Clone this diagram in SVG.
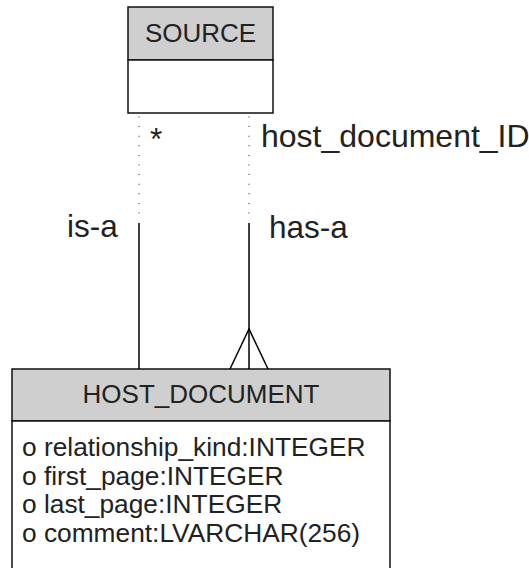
<svg xmlns="http://www.w3.org/2000/svg" width="529" height="568" viewBox="0 0 529 568">
<style>
  text { font-family: "Liberation Sans", Arial, sans-serif; fill: #222; }
  .hdr { fill: #cfcfcf; stroke: #111; stroke-width: 1.5; }
  .body { fill: #fff; stroke: #111; stroke-width: 1.5; }
  .title { font-size: 26px; text-anchor: middle; }
  .attr { font-size: 26.3px; }
  .lbl { font-size: 31.5px; }
  .solid { stroke: #000; stroke-width: 1.5; fill: none; }
  .dot { stroke: #444; stroke-width: 1.2; stroke-dasharray: 1 8.6; fill: none; }
</style>
<rect width="529" height="568" fill="#fff"/>
<g id="source">
  <rect class="hdr" x="128" y="7" width="145" height="53"/>
  <rect class="body" x="128" y="60" width="145" height="53"/>
  <text class="title" x="200.5" y="42">SOURCE</text>
</g>
<g id="host_document">
  <rect class="hdr" x="12" y="369" width="378" height="52"/>
  <rect class="body" x="12" y="421" width="378" height="160"/>
  <text class="title" x="201" y="403">HOST_DOCUMENT</text>
  <text class="attr" x="22" y="456">o relationship_kind:INTEGER</text>
  <text class="attr" x="22" y="484.5">o first_page:INTEGER</text>
  <text class="attr" x="22" y="513">o last_page:INTEGER</text>
  <text class="attr" x="22" y="541.5">o comment:LVARCHAR(256)</text>
</g>
<g id="connectors">
  <g id="is-a">
    <line class="dot" x1="139" y1="116.5" x2="139" y2="218"/>
    <line class="solid" x1="139" y1="223" x2="139" y2="369"/>
    <text class="lbl" x="150" y="150">*</text>
    <text class="lbl" x="67" y="237">is-a</text>
  </g>
  <g id="has-a">
    <line class="dot" x1="249" y1="116.5" x2="249" y2="218"/>
    <line class="solid" x1="249" y1="223" x2="249" y2="369"/>
    <polyline class="solid" points="230,369 249,329 268,369"/>
    <text class="lbl" x="261" y="147" style="font-size:32px">host_document_ID</text>
    <text class="lbl" x="269" y="238">has-a</text>
  </g>
</g>
</svg>
